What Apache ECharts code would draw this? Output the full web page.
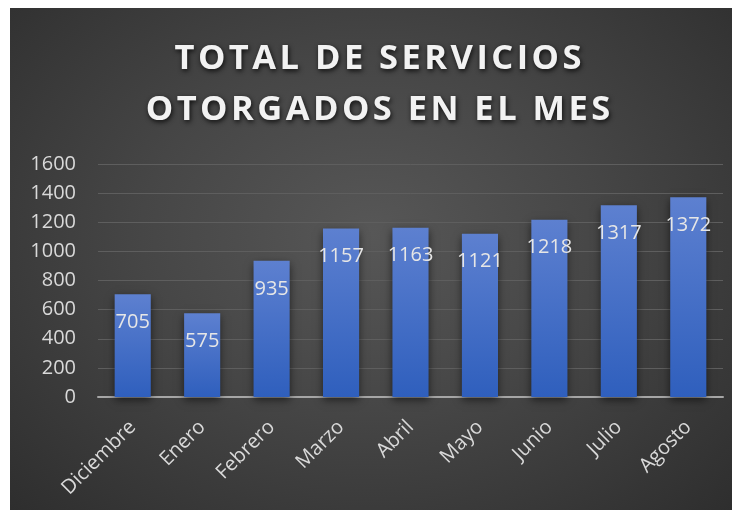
<!DOCTYPE html>
<html>
<head>
<meta charset="utf-8">
<script src="https://cdn.jsdelivr.net/npm/echarts@6/dist/echarts.min.js"></script>
<style>
html,body{margin:0;padding:0;background:#ffffff;width:742px;height:517px;overflow:hidden;}
#chart{position:absolute;left:10px;top:8px;width:722px;height:502px;
background:radial-gradient(ellipse at 50% 45%, #575757 0%, #464646 45%, #2e2e2e 100%);}
</style>
</head>
<body>
<div id="chart"></div>
<script>
const titleLines = ['TOTAL DE SERVICIOS', 'OTORGADOS EN EL MES'];
const categories = ['Diciembre', 'Enero', 'Febrero', 'Marzo', 'Abril', 'Mayo', 'Junio', 'Julio', 'Agosto'];
const values = [705, 575, 935, 1157, 1163, 1121, 1218, 1317, 1372];
const yTicks = [0, 200, 400, 600, 800, 1000, 1200, 1400, 1600];

// letter-spaced title text (hair spaces between characters)
const spaced = titleLines.map(l => l.split('').join('\u200A'));

const chart = echarts.init(document.getElementById('chart'), null, {renderer: 'canvas'});
const font = '"Open Sans", "Noto Sans", sans-serif';
chart.setOption({
  backgroundColor: 'transparent',
  title: {
    text: spaced.join('\n'),
    left: 363,
    textAlign: 'center',
    top: 21,
    textStyle: {
      color: '#f2f2f2',
      fontFamily: font,
      fontWeight: 'bold',
      fontSize: 34.5,
      lineHeight: 51,
      textShadowColor: 'rgba(0,0,0,0.8)',
      textShadowBlur: 5,
      textShadowOffsetX: 1,
      textShadowOffsetY: 2
    }
  },
  grid: {left: 88, right: 9, top: 156, bottom: 113},
  xAxis: {
    type: 'category',
    data: categories,
    axisLine: {lineStyle: {color: '#a6a6a6', width: 2}},
    axisTick: {show: false},
    axisLabel: {
      rotate: 45,
      color: '#d9d9d9',
      fontFamily: font,
      fontSize: 20,
      margin: 27
    }
  },
  yAxis: {
    type: 'value',
    min: yTicks[0],
    max: yTicks[yTicks.length - 1],
    interval: 200,
    axisLine: {show: false},
    axisTick: {show: false},
    splitLine: {lineStyle: {color: '#5e5e5e', width: 1}},
    axisLabel: {
      color: '#d9d9d9',
      fontFamily: font,
      fontSize: 20,
      margin: 22,
      formatter: function (v) { return String(v); }
    }
  },
  series: [{
    type: 'bar',
    data: values,
    barWidth: '52%',
    itemStyle: {
      color: new echarts.graphic.LinearGradient(0, 0, 0, 1, [
        {offset: 0, color: '#5d80d0'},
        {offset: 1, color: '#2f5fbd'}
      ]),
      shadowColor: 'rgba(0,0,0,0.55)',
      shadowBlur: 8,
      shadowOffsetY: 3
    },
    label: {
      show: true,
      position: 'insideTop',
      distance: 18,
      color: '#e6e6e6',
      fontFamily: font,
      fontSize: 20
    }
  }]
});
</script>
</body>
</html>
